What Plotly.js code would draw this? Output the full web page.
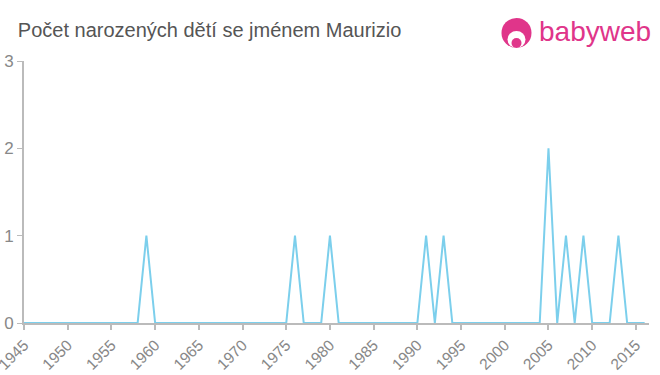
<!DOCTYPE html>
<html>
<head>
<meta charset="utf-8">
<script src="https://cdn.plot.ly/plotly-3.0.1.min.js"></script>
<style>body{margin:0;padding:0;background:#fff;}#chart{width:660px;height:375px;}</style>
</head>
<body>
<div id="chart"></div>
<script>
const years = [];
for (let y = 1945; y <= 2016; y++) years.push(y);
const peakYears = [1959, 1976, 1980, 1991, 1993, 2005, 2007, 2009, 2013];
const peakCounts = [1, 1, 1, 1, 1, 2, 1, 1, 1];
const counts = years.map(y => { const i = peakYears.indexOf(y); return i >= 0 ? peakCounts[i] : 0; });
const xTicks = [1945, 1950, 1955, 1960, 1965, 1970, 1975, 1980, 1985, 1990, 1995, 2000, 2005, 2010, 2015];
const yTicks = [0, 1, 2, 3];

const trace = {
  x: years, y: counts, type: 'scatter', mode: 'lines',
  line: {color: '#7ccfec', width: 2}, hoverinfo: 'skip'
};
const logoX = 0.788, logoY = 1.107;
const layout = {
  width: 660, height: 375,
  margin: {l: 24, r: 11, t: 61, b: 52},
  paper_bgcolor: '#fff', plot_bgcolor: '#fff',
  showlegend: false,
  font: {family: 'Liberation Sans, Arial, sans-serif', color: '#888'},
  title: {text: 'Počet narozených dětí se jménem Maurizio', x: 0.027, xanchor: 'left', y: 0.92, yanchor: 'middle',
          font: {size: 20, color: '#555', family: 'Liberation Sans, Arial, sans-serif'}},
  xaxis: {range: [1945, 2016.5], tickvals: xTicks, ticktext: xTicks.map(String), tickangle: -45,
          ticklabeloverflow: 'allow',
          showgrid: false, zeroline: false, showline: true, linecolor: '#bbb', linewidth: 2,
          ticks: 'outside', ticklen: 5, tickwidth: 2, tickcolor: '#bbb',
          tickfont: {size: 15.5, color: '#888'}, fixedrange: true},
  yaxis: {range: [0, 3], tickvals: yTicks, showgrid: false, zeroline: false, showline: true,
          linecolor: '#bbb', linewidth: 2, ticks: 'outside', ticklen: 5, tickwidth: 1, tickcolor: '#bbb',
          ticklabeloverflow: 'allow',
          tickfont: {size: 17, color: '#888'}, fixedrange: true},
  shapes: [
    {type: 'circle', xref: 'paper', yref: 'paper', xsizemode: 'pixel', ysizemode: 'pixel',
     xanchor: logoX, yanchor: logoY, x0: -15, x1: 15, y0: -15, y1: 15,
     fillcolor: '#e0358a', line: {width: 0}},
    {type: 'circle', xref: 'paper', yref: 'paper', xsizemode: 'pixel', ysizemode: 'pixel',
     xanchor: logoX, yanchor: logoY, x0: -9, x1: 9, y0: -15, y1: 2,
     fillcolor: '#ffffff', line: {width: 0}},
    {type: 'circle', xref: 'paper', yref: 'paper', xsizemode: 'pixel', ysizemode: 'pixel',
     xanchor: logoX, yanchor: logoY, x0: -5, x1: 5, y0: -15, y1: -5,
     fillcolor: '#e0358a', line: {width: 0}}
  ],
  annotations: [
    {text: 'babyweb', xref: 'paper', yref: 'paper', x: logoX, y: logoY, xanchor: 'left', yanchor: 'middle',
     xshift: 20, yshift: 1, showarrow: false, font: {size: 28, color: '#e0358a', family: 'Liberation Sans, Arial, sans-serif'}}
  ]
};
Plotly.newPlot('chart', [trace], layout, {displayModeBar: false, staticPlot: true});
</script>
</body>
</html>
